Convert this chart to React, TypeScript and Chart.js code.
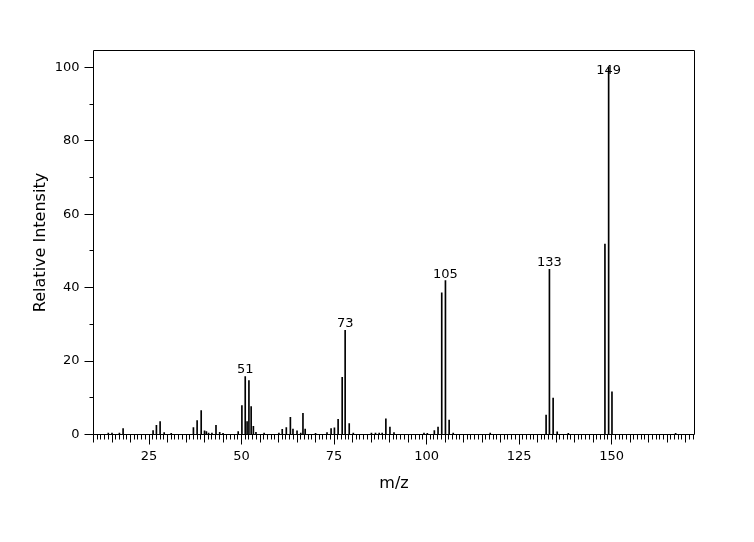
import React, { useEffect, useRef } from 'react';
import { Chart, registerables } from 'chart.js';

Chart.register(...registerables);

// m/z positions of the peaks and their relative intensities (%)
const mzValues = [
  14, 15, 17, 18, 26.1, 27, 28, 29.1, 31, 37, 38, 39.1, 40, 40.5, 41.1, 42, 43.1, 44.1, 45,
  49.1, 50.1, 51, 51.5, 52, 52.6, 53.2, 53.9, 56.1, 60.1, 61, 62.1, 63.2, 63.9, 65, 66, 66.6,
  67.2, 70, 73.1, 74.2, 75.1, 76.1, 77.2, 78, 79.1, 80.2, 85.1, 86.2, 87.2, 88, 89, 90.1, 91.2,
  99.3, 100.2, 102.1, 103.1, 104.1, 105.1, 106.1, 107.2, 117.2, 132.3, 133.2, 134.2, 135.3,
  138.3, 148.2, 149.2, 150.1, 167.3,
];
const intensities = [
  0.4, 0.4, 0.4, 1.6, 1.1, 2.5, 3.5, 0.5, 0.3, 1.9, 3.8, 6.5, 1.0, 0.8, 0.4, 0.4, 2.5, 0.6, 0.3,
  0.8, 7.9, 15.8, 3.5, 14.7, 7.6, 2.2, 0.6, 0.4, 0.4, 1.4, 1.9, 4.7, 1.5, 1.0, 0.4, 5.8,
  1.5, 0.3, 0.5, 1.6, 1.8, 4.1, 15.6, 28.4, 3.0, 0.4, 0.4, 0.4, 0.4, 0.4, 4.3, 2.0, 0.5,
  0.4, 0.3, 1.1, 2.0, 38.6, 41.9, 3.9, 0.4, 0.4, 5.3, 45.0, 9.9, 0.7,
  0.3, 51.9, 100, 11.6, 0.3,
];

// annotated peaks
const peakLabelTexts = ['51', '73', '105', '133', '149'];
const peakLabelMz = [51, 78, 105.1, 133.2, 149.2];

// axis tick labels
const xTickValues = [25, 50, 75, 100, 125, 150];
const yTickValues = [0, 20, 40, 60, 80, 100];

const FONT = '"DejaVu Sans", Verdana, sans-serif';

const framePlugin = {
  id: 'msFrame',
  afterDatasetsDraw(chart: any) {
    const { ctx, chartArea: a, scales } = chart;
    const x = scales.x;
    const y = scales.y;
    const L = Math.floor(a.left) + 0.5;
    const R = Math.floor(a.right) + 0.5;
    const T = Math.floor(a.top) + 0.5;
    const B = Math.floor(a.bottom) + 0.5;
    ctx.save();
    ctx.strokeStyle = '#000';
    ctx.lineWidth = 1;
    ctx.beginPath();
    ctx.rect(L, T, R - L, B - T);
    // x tick marks: every unit, longer every 5, longest every 25
    for (let m = Math.ceil(x.min); m <= x.max; m++) {
      const px = Math.floor(x.getPixelForValue(m)) + 0.5;
      const len = m % 25 === 0 ? 10 : m % 5 === 0 ? 8 : 5;
      ctx.moveTo(px, B);
      ctx.lineTo(px, B + len);
    }
    // y tick marks: every 10, longer every 20
    for (let v = 0; v <= 100; v += 10) {
      const py = Math.floor(y.getPixelForValue(v)) + 0.5;
      const len = v % 20 === 0 ? 9 : 4;
      ctx.moveTo(L, py);
      ctx.lineTo(L - len, py);
    }
    ctx.stroke();

    // peak annotations
    ctx.fillStyle = '#000';
    ctx.font = '13px ' + FONT;
    ctx.textAlign = 'center';
    ctx.textBaseline = 'middle';
    peakLabelTexts.forEach((txt, i) => {
      const mz = peakLabelMz[i];
      const idx = mzValues.indexOf(mz);
      const val = idx >= 0 ? intensities[idx] : 0;
      const px = x.getPixelForValue(mz);
      const py = Math.max(y.getPixelForValue(val) - 6.5, a.top + 20);
      ctx.fillText(txt, px, py);
    });
    ctx.restore();
  },
};

export default function App() {
  const canvasRef = useRef<HTMLCanvasElement | null>(null);

  useEffect(() => {
    document.body.style.margin = '0';
    const canvas = canvasRef.current;
    if (!canvas) return;
    const chart = new Chart(canvas, {
      type: 'bar',
      data: {
        datasets: [
          {
            data: mzValues.map((m, i) => ({ x: m, y: intensities[i] })),
            backgroundColor: '#000',
            borderWidth: 0,
            barThickness: 1,
            grouped: false,
          } as any,
        ],
      },
      options: {
        animation: false,
        responsive: false,
        maintainAspectRatio: false,
        events: [],
        layout: { padding: { top: 50.5, right: 754 - 694.5, bottom: 0, left: 0 } },
        plugins: {
          legend: { display: false },
          tooltip: { enabled: false },
        },
        scales: {
          x: {
            type: 'linear',
            min: 10,
            max: 172.4,
            offset: false,
            grid: {
              display: true,
              drawOnChartArea: false,
              drawTicks: true,
              tickLength: 10,
              color: 'rgba(0,0,0,0)',
            },
            border: { display: false },
            ticks: {
              color: '#000',
              font: { family: FONT, size: 13 },
              padding: 4,
              maxRotation: 0,
              autoSkip: false,
            },
            afterBuildTicks: (s: any) => {
              s.ticks = xTickValues.map((v) => ({ value: v }));
            },
            afterFit: (s: any) => {
              s.height = 542 - 434.5;
            },
            title: {
              display: true,
              text: 'm/z',
              color: '#000',
              font: { family: FONT, size: 16 },
              padding: { top: 0, bottom: 49 },
            },
          },
          y: {
            type: 'linear',
            min: 0,
            max: 104.6,
            grid: {
              display: true,
              drawOnChartArea: false,
              drawTicks: true,
              tickLength: 9,
              color: 'rgba(0,0,0,0)',
            },
            border: { display: false },
            ticks: {
              color: '#000',
              font: { family: FONT, size: 13 },
              padding: 5,
            },
            afterBuildTicks: (s: any) => {
              s.ticks = yTickValues.map((v) => ({ value: v }));
            },
            afterFit: (s: any) => {
              s.width = 93.5;
            },
            title: {
              display: true,
              text: 'Relative Intensity',
              color: '#000',
              font: { family: FONT, size: 16 },
              padding: { top: 31, bottom: 0 },
            },
          },
        },
      } as any,
      plugins: [framePlugin],
    });
    return () => chart.destroy();
  }, []);

  return (
    <div style={{ width: 754, height: 542 }}>
      <canvas ref={canvasRef} width={754} height={542} style={{ display: 'block' }} />
    </div>
  );
}
